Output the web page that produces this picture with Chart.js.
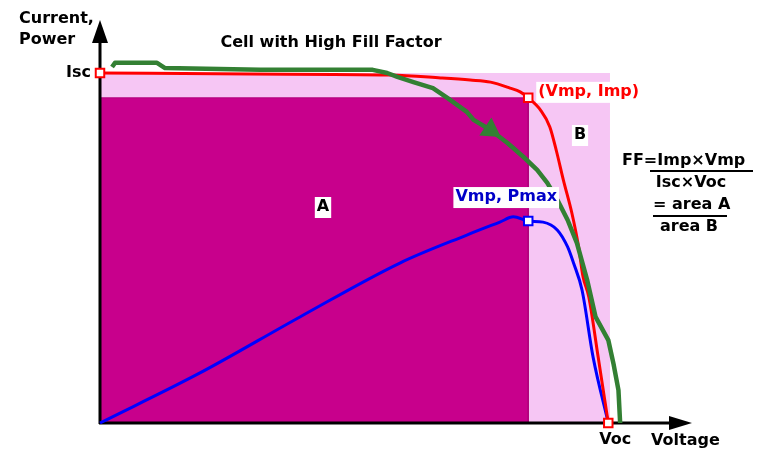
<!DOCTYPE html>
<html>
<head>
<meta charset="utf-8">
<script src="https://cdn.jsdelivr.net/npm/chart.js@4/dist/chart.umd.min.js"></script>
<style>
  body { margin: 0; background: #fff; }
  canvas { display: block; }
</style>
</head>
<body>
<canvas id="chart" width="761" height="452"></canvas>
<script>
// values (voltage in V, current / power in units of Isc)
const isc = 1.0;
const voc = 0.6;
const vmp = 0.5055;
const imp = 0.929;
const pmax = 0.577;

// I-V curve (red)
const ivVolts = [0, 0.177, 0.343, 0.402, 0.437, 0.461, 0.484, 0.496, 0.5055, 0.520, 0.531, 0.539, 0.547, 0.557, 0.565, 0.570, 0.577, 0.588, 0.6];
const ivAmps  = [1.0, 0.997, 0.994, 0.986, 0.980, 0.974, 0.957, 0.946, 0.929, 0.894, 0.846, 0.775, 0.694, 0.600, 0.503, 0.420, 0.360, 0.189, 0];

// P-V curve (blue)
const pvVolts = [0, 0.118, 0.236, 0.354, 0.433, 0.472, 0.488, 0.5055, 0.523, 0.540, 0.552, 0.559, 0.569, 0.582, 0.6];
const pvPower = [0, 0.143, 0.303, 0.457, 0.537, 0.574, 0.589, 0.577, 0.574, 0.551, 0.503, 0.457, 0.380, 0.189, 0];

// hand drawn curve (green)
const gVolts = [0.0142, 0.0177, 0.0673, 0.0768, 0.189, 0.322, 0.339, 0.351, 0.370, 0.393, 0.410, 0.433, 0.441, 0.461, 0.481, 0.500, 0.516, 0.528, 0.540, 0.552, 0.563, 0.575, 0.585, 0.600, 0.606, 0.612, 0.614];
const gAmps  = [1.017, 1.029, 1.029, 1.014, 1.009, 1.009, 1.000, 0.989, 0.974, 0.957, 0.929, 0.889, 0.866, 0.837, 0.800, 0.760, 0.723, 0.686, 0.637, 0.580, 0.514, 0.409, 0.303, 0.237, 0.171, 0.094, 0];
const gArrowAt = 13;

const pts = (xs, ys) => xs.map((x, i) => ({x: x, y: ys[i]}));

const RED = '#ff0000';
const BLUE = '#0000ff';
const GREEN = '#338033';
const FONT = 'bold 16px "DejaVu Sans", sans-serif';

let idxA = 1;

const deco =
{
  id: 'deco',
  afterDatasetDraw(chart, args)
  {
    if (args.index != idxA)
    {
      return;
    }
    const ctx = chart.ctx;
    const ca = chart.chartArea;
    ctx.save();
    ctx.fillStyle = '#000';
    ctx.strokeStyle = '#000';
    ctx.lineWidth = 3;
    // y axis
    ctx.beginPath();
    ctx.moveTo(ca.left, ca.bottom + 1);
    ctx.lineTo(ca.left, 40);
    ctx.stroke();
    ctx.beginPath();
    ctx.moveTo(ca.left, 20);
    ctx.lineTo(ca.left + 8, 43);
    ctx.lineTo(ca.left - 8, 43);
    ctx.closePath();
    ctx.fill();
    // x axis
    ctx.beginPath();
    ctx.moveTo(ca.left - 1, ca.bottom);
    ctx.lineTo(672, ca.bottom);
    ctx.stroke();
    ctx.beginPath();
    ctx.moveTo(692, ca.bottom);
    ctx.lineTo(669, ca.bottom - 7);
    ctx.lineTo(669, ca.bottom + 7);
    ctx.closePath();
    ctx.fill();
    ctx.restore();
  },
  afterDraw(chart)
  {
    const ctx = chart.ctx;
    const xs = chart.scales.x;
    const ys = chart.scales.y;
    const label = (t, x, y, color, align, box) =>
    {
      ctx.font = FONT;
      ctx.textAlign = align;
      ctx.textBaseline = 'middle';
      if (box)
      {
        const w = ctx.measureText(t).width;
        let l = x;
        if (align == 'center') l = x - w / 2;
        if (align == 'right') l = x - w;
        ctx.fillStyle = '#fff';
        ctx.fillRect(l - 2, y - 10, w + 4, 21);
      }
      ctx.fillStyle = color;
      ctx.fillText(t, x, y);
    };
    ctx.save();
    label('Current,', 19, 19, '#000', 'left', false);
    label('Power', 19, 40, '#000', 'left', false);
    label('Cell with High Fill Factor', 331, 43, '#000', 'center', false);
    label('Isc', xs.getPixelForValue(0) - 9, ys.getPixelForValue(isc), '#000', 'right', false);
    label('Voc', xs.getPixelForValue(voc) + 7, 440, '#000', 'center', false);
    label('Voltage', 651, 441, '#000', 'left', false);
    label('(Vmp, Imp)', xs.getPixelForValue(vmp) + 10, ys.getPixelForValue(imp) - 6, RED, 'left', true);
    label('Vmp, Pmax', xs.getPixelForValue(vmp) - 22, ys.getPixelForValue(pmax) - 24, '#0000c8', 'center', true);
    label('B', 580, 135, '#000', 'center', true);
    label('A', 323, 207, '#000', 'center', true);
    // fill factor formula
    label('FF=Imp\u00d7Vmp', 622, 161, '#000', 'left', false);
    label('Isc\u00d7Voc', 691, 183, '#000', 'center', false);
    label('= area A', 653, 205, '#000', 'left', false);
    label('area B', 689, 227, '#000', 'center', false);
    ctx.fillStyle = '#000';
    ctx.fillRect(650, 170, 103, 2);
    ctx.fillRect(653, 215, 74, 2);
    ctx.restore();
  }
};

new Chart(document.getElementById('chart'),
{
  type: 'scatter',
  data:
  {
    datasets:
    [
      {
        // area B : Isc x Voc
        data: [{x: 0, y: isc}, {x: voc + 0.002, y: isc}, {x: voc + 0.002, y: 0}],
        showLine: true, fill: 'origin', backgroundColor: 'rgb(246,198,244)',
        borderWidth: 0, pointRadius: 0, order: 10
      },
      {
        // area A : Imp x Vmp
        data: [{x: 0, y: imp}, {x: vmp, y: imp}, {x: vmp, y: 0}],
        showLine: true, fill: 'origin', backgroundColor: '#c8008c',
        borderColor: '#b0007a', borderWidth: 1, pointRadius: 0, order: 9
      },
      {
        data: pts(pvVolts, pvPower), showLine: true, borderColor: BLUE,
        borderWidth: 3, pointRadius: 0, cubicInterpolationMode: 'monotone', order: 5
      },
      {
        data: pts(ivVolts, ivAmps), showLine: true, borderColor: RED,
        borderWidth: 3, pointRadius: 0, cubicInterpolationMode: 'monotone', order: 4
      },
      {
        data: pts(gVolts, gAmps), showLine: true, borderColor: GREEN,
        borderWidth: 4.5, borderJoinStyle: 'round', pointRadius: gVolts.map((v, i) => i == gArrowAt ? 8 : 0),
        pointStyle: 'triangle', rotation: 124, pointBackgroundColor: GREEN, pointBorderColor: GREEN, order: 3
      },
      {
        data: [{x: 0, y: isc}, {x: vmp, y: imp}, {x: voc, y: 0}], pointStyle: 'rect',
        pointRadius: 6, borderWidth: 2, borderColor: RED, backgroundColor: '#fff', order: 1
      },
      {
        data: [{x: vmp, y: pmax}], pointStyle: 'rect',
        pointRadius: 6, borderWidth: 2, borderColor: BLUE, backgroundColor: '#fff', order: 1
      }
    ]
  },
  options:
  {
    responsive: false,
    animation: false,
    devicePixelRatio: 1,
    layout: {padding: {left: 100, right: 68, top: 31, bottom: 29}},
    scales:
    {
      x: {type: 'linear', min: 0, max: 0.7, display: false},
      y: {type: 'linear', min: 0, max: 1.12, display: false}
    },
    elements: {line: {tension: 0}},
    clip: false,
    plugins: {legend: {display: false}, tooltip: {enabled: false}}
  },
  plugins: [deco]
});
</script>
</body>
</html>
